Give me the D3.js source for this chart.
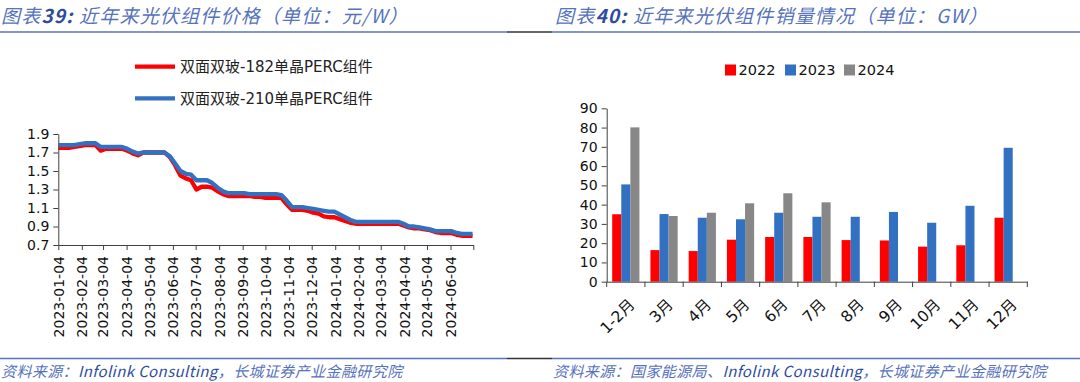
<!DOCTYPE html>
<html>
<head>
<meta charset="utf-8">
<script src="https://cdn.jsdelivr.net/npm/d3@7"></script>
<style>
  body { margin: 0; background: #fff; }
  svg { display: block; font-family: "DejaVu Sans", "Noto Sans CJK SC", sans-serif; }
</style>
</head>
<body>
<svg id="graph" width="1080" height="382"></svg>
<script>
// ---- left chart data: weekly module price, yuan/W ----
var priceStart = "2023-01-04";
var price182 = [1.75,1.75,1.75,1.76,1.77,1.78,1.78,1.78,1.72,1.74,1.74,1.74,1.74,1.72,1.69,1.67,1.70,1.70,1.70,1.70,
  1.70,1.65,1.56,1.45,1.42,1.40,1.30,1.33,1.33,1.32,1.28,1.25,1.23,1.23,1.23,1.23,1.23,1.22,1.22,1.21,
  1.21,1.21,1.21,1.14,1.08,1.08,1.08,1.07,1.05,1.04,1.01,1.00,1.00,0.98,0.96,0.94,0.93,0.93,0.93,0.93,
  0.93,0.93,0.93,0.93,0.93,0.91,0.89,0.88,0.88,0.87,0.86,0.84,0.83,0.83,0.83,0.81,0.80,0.80,0.80];
var price210 = [1.78,1.78,1.78,1.78,1.79,1.80,1.80,1.80,1.76,1.76,1.76,1.76,1.76,1.74,1.71,1.69,1.70,1.70,1.70,1.70,
  1.70,1.66,1.58,1.50,1.47,1.46,1.40,1.40,1.40,1.37,1.32,1.28,1.26,1.26,1.26,1.26,1.25,1.25,1.25,1.25,
  1.25,1.25,1.24,1.18,1.11,1.11,1.11,1.10,1.09,1.08,1.07,1.06,1.06,1.03,1.00,0.97,0.95,0.95,0.95,0.95,
  0.95,0.95,0.95,0.95,0.95,0.93,0.90,0.90,0.89,0.88,0.87,0.85,0.85,0.85,0.85,0.83,0.82,0.82,0.82];
var priceNames = ["双面双玻-182单晶PERC组件", "双面双玻-210单晶PERC组件"];
var dateTicks = ["2023-01-04","2023-02-04","2023-03-04","2023-04-04","2023-05-04","2023-06-04","2023-07-04",
  "2023-08-04","2023-09-04","2023-10-04","2023-11-04","2023-12-04","2024-01-04","2024-02-04","2024-03-04",
  "2024-04-04","2024-05-04","2024-06-04"];
var dateEnd = "2024-07-04";
var priceTicks = [0.7, 0.9, 1.1, 1.3, 1.5, 1.7, 1.9];

// ---- right chart data: module sales, GW ----
var months = ["1-2月","3月","4月","5月","6月","7月","8月","9月","10月","11月","12月"];
var years = ["2022", "2023", "2024"];
var sales2022 = [35, 16.4, 15.9, 21.8, 23.2, 23.2, 21.6, 21.4, 18.2, 18.9, 33.2];
var sales2023 = [50.5, 35.1, 33.2, 32.4, 35.8, 33.7, 33.7, 36.2, 30.6, 39.4, 69.5];
var sales2024 = [80.1, 34.1, 35.8, 40.7, 45.9, 41.2];

var RED = "#ff0000", BLUE = "#3270c2", GRAY = "#878787";
var svg = d3.select("#graph");
var parse = d3.utcParse("%Y-%m-%d");

// ---- header / footer rules and texts ----
function rules(y) {
    svg.append("line").attr("x1", 0).attr("x2", 507).attr("y1", y).attr("y2", y)
        .attr("stroke", "#5774b8").attr("stroke-width", 1.5);
    svg.append("line").attr("x1", 507).attr("x2", 552).attr("y1", y).attr("y2", y)
        .attr("stroke", "#333").attr("stroke-width", 1.5);
    svg.append("line").attr("x1", 552).attr("x2", 1080).attr("y1", y).attr("y2", y)
        .attr("stroke", "#5774b8").attr("stroke-width", 1.5);
}
rules(32);
rules(358.5);

function title(x, num, rest) {
    var t = svg.append("text").attr("x", x).attr("y", 23)
        .attr("font-family", "'Noto Sans CJK SC', sans-serif")
        .attr("font-size", 19).attr("font-style", "italic").attr("letter-spacing", 1.2)
        .attr("fill", "#5673bd");
    t.append("tspan").text("图表");
    t.append("tspan").attr("font-weight", "bold").attr("fill", "#2d4c9e").text(num);
    t.append("tspan").text(rest);
}
title(1, "39:", " 近年来光伏组件价格（单位：元/W）");
title(555, "40:", " 近年来光伏组件销量情况（单位：GW）");

function source(x, pre, eng, post) {
    var t = svg.append("text").attr("x", x).attr("y", 377)
        .attr("font-family", "'Noto Sans CJK SC', sans-serif")
        .attr("font-size", 15).attr("font-style", "italic").attr("letter-spacing", 0.4)
        .attr("fill", "#5673bd");
    t.append("tspan").text(pre);
    t.append("tspan").attr("fill", "#2d4c9e").text(eng);
    t.append("tspan").text(post);
}
source(1, "资料来源：", "Infolink Consulting", "，长城证券产业金融研究院");
source(553, "资料来源：国家能源局、", "Infolink Consulting", "，长城证券产业金融研究院");

// ---- left: price lines ----
var x = d3.scaleUtc().domain([parse(dateTicks[0]), parse(dateEnd)]).range([58.3, 473.3]);
var y = d3.scaleLinear().domain([0.7, 1.9]).range([245, 134]);
var weeks = price182.map(function(d, i) { return d3.utcDay.offset(parse(priceStart), 7 * i); });

var left = svg.append("g");
var fmt = d3.utcFormat("%Y-%m-%d");
var xAxis = left.append("g").attr("transform", "translate(0,245)")
    .call(d3.axisBottom(x)
        .tickValues(dateTicks.map(parse).concat([parse(dateEnd)]))
        .tickFormat(function(d) { return dateTicks.indexOf(fmt(d)) >= 0 ? fmt(d) : ""; })
        .tickSize(5).tickSizeOuter(0));
xAxis.selectAll("text")
    .attr("transform", "rotate(-90)")
    .attr("text-anchor", "end")
    .attr("x", -11).attr("y", 0).attr("dy", "0.35em");
var yAxis = left.append("g").attr("transform", "translate(58.3,0)")
    .call(d3.axisLeft(y).tickValues(priceTicks).tickFormat(d3.format(".1f")).tickSize(5).tickSizeOuter(0));
[xAxis, yAxis].forEach(function(a) {
    a.select(".domain").attr("stroke", "#404040");
    a.selectAll(".tick line").attr("stroke", "#404040");
    a.selectAll("text").attr("font-size", 14).attr("fill", "#111")
        .attr("font-family", "'DejaVu Sans', sans-serif");
});
yAxis.selectAll("text").attr("x", -9);

var line = d3.line().x(function(d) { return x(d[0]); }).y(function(d) { return y(d[1]); });
[[price182, RED], [price210, BLUE]].forEach(function(s) {
    left.append("path")
        .datum(weeks.map(function(w, i) { return [w, s[0][i]]; }))
        .attr("d", line).attr("fill", "none").attr("stroke", s[1])
        .attr("stroke-width", 4.3).attr("stroke-linejoin", "round");
});

// legend
[[RED, 66.7], [BLUE, 98.3]].forEach(function(l, i) {
    left.append("line").attr("x1", 135).attr("x2", 175).attr("y1", l[1]).attr("y2", l[1])
        .attr("stroke", l[0]).attr("stroke-width", 4.3);
    left.append("text").attr("x", 180).attr("y", l[1]).attr("dy", "0.36em")
        .attr("font-size", 15).attr("fill", "#222").text(priceNames[i]);
});

// ---- right: grouped bars ----
var x0 = d3.scaleBand().domain(months).range([606.7, 1027.3]).padding(0);
var x1 = d3.scaleBand().domain(years).range([5.5, x0.bandwidth() - 5.5]).padding(0);
var yb = d3.scaleLinear().domain([0, 90]).range([281.7, 108.3]);
var series = [sales2022, sales2023, sales2024];
var colors = [RED, BLUE, GRAY];

var right = svg.append("g");
series.forEach(function(vals, si) {
    right.append("g").selectAll("rect")
        .data(vals)
        .enter()
        .append("rect")
        .attr("x", function(d, i) { return x0(months[i]) + x1(years[si]); })
        .attr("y", function(d) { return yb(d); })
        .attr("width", x1.bandwidth())
        .attr("height", function(d) { return yb(0) - yb(d); })
        .attr("fill", colors[si]);
});

var bx = right.append("g").attr("transform", "translate(0,281.7)")
    .call(d3.axisBottom(x0).tickSize(0).tickSizeOuter(0));
// boundary ticks between categories
right.append("g").selectAll("line")
    .data(months.concat([""]))
    .enter()
    .append("line")
    .attr("x1", function(d, i) { return 606.7 + i * x0.step(); })
    .attr("x2", function(d, i) { return 606.7 + i * x0.step(); })
    .attr("y1", 281.7).attr("y2", 287)
    .attr("stroke", "#404040");
var by = right.append("g").attr("transform", "translate(606.7,0)")
    .call(d3.axisLeft(yb).tickValues(d3.range(0, 91, 10)).tickSize(5).tickSizeOuter(0));
[bx, by].forEach(function(a) {
    a.select(".domain").attr("stroke", "#404040");
    a.selectAll(".tick line").attr("stroke", "#404040");
    a.selectAll("text").attr("font-size", 14).attr("fill", "#111")
        .attr("font-family", "'DejaVu Sans', 'Noto Sans CJK SC', sans-serif");
});
bx.selectAll(".tick text")
    .attr("font-size", 15.5)
    .attr("transform", "translate(6,20) rotate(-45)")
    .attr("text-anchor", "end")
    .attr("x", 0).attr("y", 0).attr("dy", "0.35em");
by.selectAll("text").attr("x", -9);

// legend
var lx = [725, 785, 844];
years.forEach(function(yr, i) {
    right.append("rect").attr("x", lx[i]).attr("y", 64.5).attr("width", 11).attr("height", 11)
        .attr("fill", colors[i]);
    right.append("text").attr("x", lx[i] + 13.5).attr("y", 70).attr("dy", "0.36em")
        .attr("font-size", 14.5).attr("fill", "#111").text(yr);
});
</script>
</body>
</html>
